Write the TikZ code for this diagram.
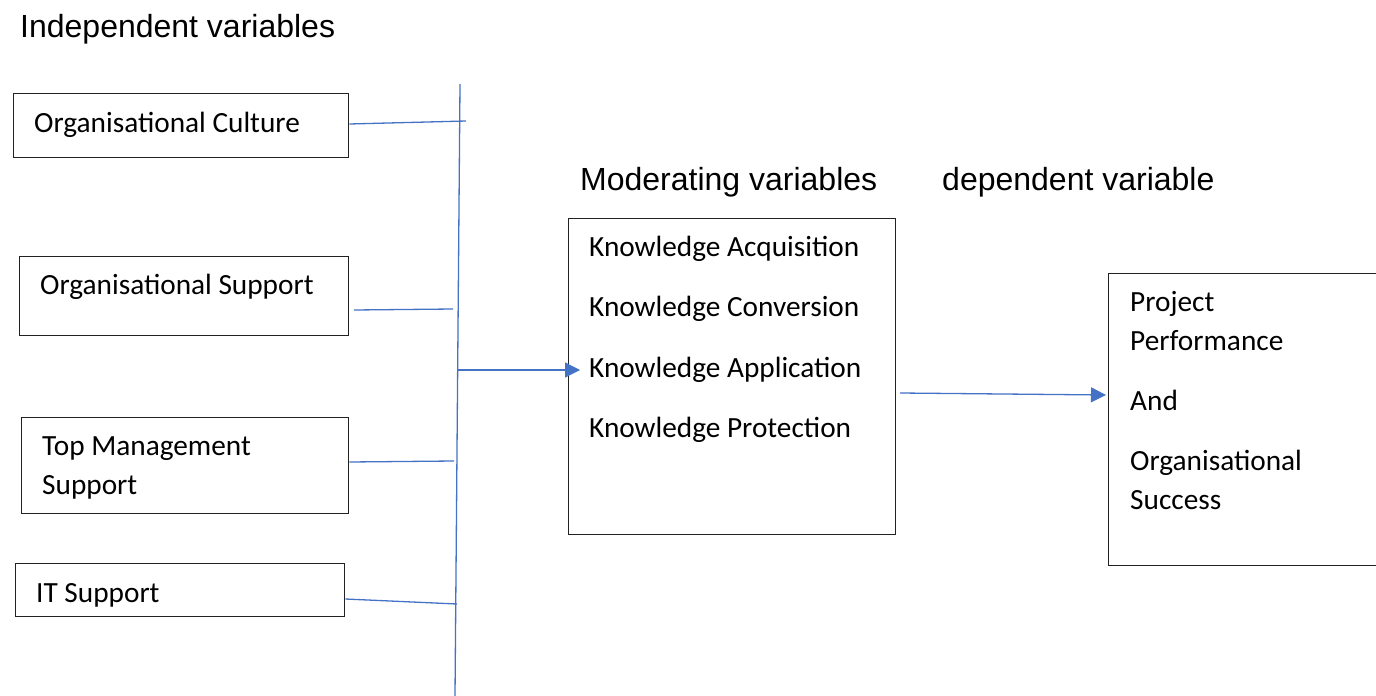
\documentclass[tikz,border=0pt]{standalone}
\usepackage{fontspec}
\setmainfont{Carlito}
\newfontfamily\headfont{Liberation Sans}
\usetikzlibrary{arrows.meta}
\definecolor{linkblue}{HTML}{4472C4}
\definecolor{boxline}{HTML}{222222}
\begin{document}
\begin{tikzpicture}[x=1pt,y=-1pt,
  varbox/.style={draw=boxline,line width=1.4pt,rectangle,inner sep=0pt,anchor=north west},
  boxtext/.style={anchor=base west,inner sep=0pt,font=\fontsize{29.3}{34}\selectfont},
  heading/.style={anchor=base west,inner sep=0pt,font=\headfont\fontsize{32}{37}\selectfont},
  link/.style={draw=linkblue,line width=1.3pt},
  arrowlink/.style={link,-{Triangle[length=15pt,width=15pt]}}]
\useasboundingbox (0,0) rectangle (1376,696);

% headings
\node[heading] (hind) at (20,37) {Independent variables};
\node[heading] (hmod) at (580,190) {Moderating variables};
\node[heading] (hdep) at (942,190) {dependent variable};

% independent variable boxes
\node[varbox,minimum width=335pt,minimum height=64pt] (culture) at (13,93) {};
\node[boxtext] (tculture) at (34,132) {Organisational Culture};
\node[varbox,minimum width=329pt,minimum height=79pt] (orgsup) at (19,256) {};
\node[boxtext] (torgsup) at (40,294) {Organisational Support};
\node[varbox,minimum width=327pt,minimum height=96pt] (topmgmt) at (21,417) {};
\node[boxtext] (ttop1) at (42,455) {Top Management};
\node[boxtext] (ttop2) at (42,494) {Support};
\node[varbox,minimum width=329pt,minimum height=53pt] (itsup) at (15,563) {};
\node[boxtext] (titsup) at (36,602) {IT Support};

% moderating variables box
\node[varbox,minimum width=327pt,minimum height=316pt] (moder) at (568,218) {};
\node[boxtext] (tk1) at (589,256) {Knowledge Acquisition};
\node[boxtext] (tk2) at (589,316) {Knowledge Conversion};
\node[boxtext] (tk3) at (589,377) {Knowledge Application};
\node[boxtext] (tk4) at (589,437) {Knowledge Protection};

% dependent variable box (runs off the right edge)
\node[varbox,minimum width=290pt,minimum height=292pt] (depend) at (1108,273) {};
\node[boxtext] (td1) at (1130,311) {Project};
\node[boxtext] (td2) at (1130,350) {Performance};
\node[boxtext] (td3) at (1130,410) {And};
\node[boxtext] (td4) at (1130,470) {Organisational};
\node[boxtext] (td5) at (1130,509) {Success};

% collecting bus
\coordinate (bustop) at (460,84);
\coordinate (busbot) at (455,696);
\draw[link] (bustop) -- (busbot);

\coordinate (j1) at (466,121);
\coordinate (s2) at (354,310);
\coordinate (j2) at (453,309);
\coordinate (j3) at (454,461);
\coordinate (j4) at (457,604);
\draw[link] (culture.east |- 0,124) -- (j1);
\draw[link] (s2) -- (j2);
\draw[link] (topmgmt.east |- 0,462) -- (j3);
\draw[link] (itsup.east |- 0,599) -- (j4);

% arrows
\coordinate (bout) at (457,370);
\coordinate (tip1) at (580,370);
\draw[arrowlink] (bout) -- (tip1);
\coordinate (mout) at (900,393);
\coordinate (tip2) at (1106,395);
\draw[arrowlink] (mout) -- (tip2);
\end{tikzpicture}
\end{document}
